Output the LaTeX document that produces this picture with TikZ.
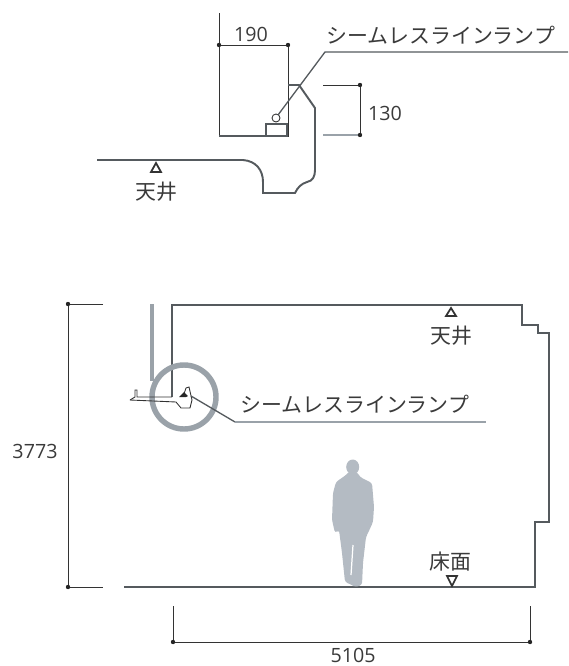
\documentclass[tikz,border=0pt]{standalone}
\usepackage{fontspec}
\setmainfont{Open Sans}
\newfontfamily\jpfont{Noto Sans CJK JP}
\usetikzlibrary{calc}
\definecolor{wallgray}{HTML}{555A5E}
\definecolor{ringgray}{HTML}{9AA2A9}
\definecolor{mangray}{HTML}{B4BBC3}
\definecolor{txtgray}{HTML}{3A3A3A}
\tikzset{
 wall/.style={draw=wallgray, line width=1.1pt, line join=miter},
 thinline/.style={draw=black!80, line width=.5pt},
 leader/.style={draw=wallgray, line width=.75pt},
 lbl/.style={text=txtgray, inner sep=0, font=\fontsize{11.2}{11.2}\selectfont},
 jplbl/.style={text=txtgray, inner sep=0, font=\fontsize{11.9}{11.9}\selectfont\jpfont},
 level/.style={draw=black!80, line width=1pt, line join=miter}
}
\begin{document}
\begin{tikzpicture}[x=.02cm, y=-.02cm]
\useasboundingbox (0,0) rectangle (568,666);
% upper detail
\draw[thinline] (219,13)--(219,136)--(288,136)--(288,45);
\draw[thinline] (219,45)--(288,45);
\draw[wall] (219,136)--(288,136);
\draw[wall] (97,160)--(243,160) .. controls (256,161) and (263,170) .. (263,182)--(263,193)--(295,193) .. controls (298,187) and (301,184) .. (307,182) .. controls (313,181) and (315,176) .. (315,170)--(315,108)--(299,85)--(288,85);
\draw[wall] (266,135)--(266,124)--(287,124)--(287,135);
\draw[thinline] (276,118) circle (4);
\coordinate (lampa) at (278,115);
\coordinate (benda) at (325,52);
\coordinate (enda) at (568,52);
\draw[leader] (lampa)--(benda)--(enda);
\node[jplbl, anchor=west] (seama) at (326,35) {シームレスラインランプ};
\node[lbl] (w190) at (251,34) {190};
\draw[thinline] (323,85)--(360,85)--(360,135);
\draw[draw=ringgray, line width=1pt] (323,135)--(360,135);
\node[lbl] (h130) at (385,113) {130};
\foreach \p in {(219,45),(288,45),(360,85),(360,135)} {
 \fill[black!85] \p circle (2.2);
}
\draw[level] (156,163)--(151,172)--(161,172)--cycle;
\node[jplbl] (ceila) at (156,192) {天井};
% lower section
\draw[draw=ringgray, line width=1.9pt] (152,304)--(152,381);
\draw[wall] (172,397)--(172,305)--(522,305)--(522,325)--(538,325)--(538,333)--(549,333)--(549,522)--(535,522)--(535,587)--(124,587);
\draw[draw=ringgray, line width=3.1pt] (184,397) circle (32);
\draw[thinline] (130,400)--(135,397)--(135,390)--(137,390)--(137,397)--(172,397);
\draw[thinline] (130,400)--(176,402)--(181,408)--(190,408)--(192,400)--(189,387)--(186,388)--(184,394);
\fill[black!85] (179,397)--(184,392)--(188,396)--(186,397)--cycle;
\coordinate (lampb) at (191,396);
\coordinate (bendb) at (235,422);
\coordinate (endb) at (486,422);
\draw[leader] (lampb)--(bendb);
\draw[draw=ringgray, line width=1pt] (bendb)--(endb);
\node[jplbl, anchor=west] (seamb) at (240,404) {シームレスラインランプ};
% man
\fill[mangray] (352.7,467) ellipse (6.5 and 7.5);
\fill[mangray, rounded corners=1.5pt] (349,472)--(346,475)--(336,482)--(333,493)--(332,520)--(335,533)--(339,530)--(342,553)--(345,582)--(352,585)--(355,587)--(362,585)--(363,563)--(366,537)--(368,533)--(373,522)--(374,507)--(372,483)--(360,477)--(357,472)--cycle;
\draw[white, line width=.7pt] (353,545)--(351,575);
\draw[level] (451,308)--(446,316)--(456,316)--cycle;
\node[jplbl] (ceilb) at (451,336) {天井};
\node[jplbl] (floor) at (450,562) {床面};
\draw[level] (452,586)--(447,576)--(457,576)--cycle;
% dimensions
\coordinate (lefta) at (68,304);
\coordinate (leftb) at (68,587);
\coordinate (dimc) at (173,642);
\coordinate (dimd) at (530,642);
\draw[thinline] (103,304)--(lefta)--(leftb)--(103,587);
\draw[thinline] (173,606)--(dimc)--(dimd)--(530,606);
\foreach \p in {lefta,leftb,dimc,dimd} {
 \fill[black!85] (\p) circle (2.2);
}
\node[lbl] (h3773) at (35,451) {3773};
\node[lbl] (w5105) at (353,655) {5105};
\end{tikzpicture}
\end{document}
